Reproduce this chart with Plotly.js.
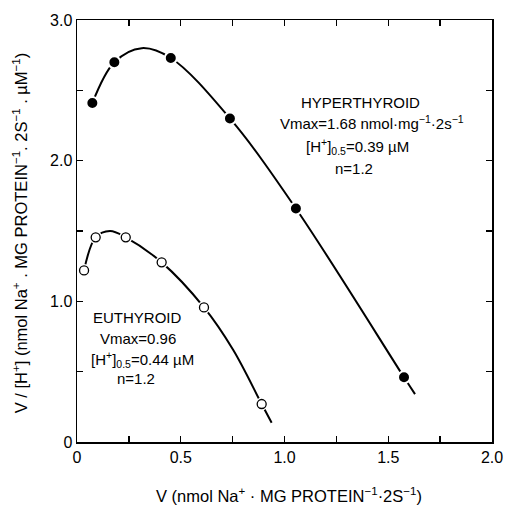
<!DOCTYPE html>
<html>
<head>
<meta charset="utf-8">
<script src="https://cdn.plot.ly/plotly-3.0.1.min.js"></script>
<style>html,body{margin:0;padding:0;background:#fff;}#chart{width:506px;height:517px;}</style>
</head>
<body>
<div id="chart"></div>
<script>
// Hyperthyroid measured points (filled circles)
const hyperX = [0.074, 0.180, 0.452, 0.737, 1.055, 1.576];
const hyperY = [2.41, 2.70, 2.73, 2.30, 1.66, 0.46];
// Hyperthyroid fitted curve
const hyperCurveX = [0.074, 0.180, 0.312, 0.452, 0.737, 1.055, 1.576, 1.629];
const hyperCurveY = [2.41, 2.70, 2.80, 2.73, 2.30, 1.66, 0.46, 0.34];
// Euthyroid measured points (open circles)
const euthX = [0.034, 0.090, 0.235, 0.408, 0.612, 0.890];
const euthY = [1.22, 1.455, 1.455, 1.277, 0.957, 0.27];
// Euthyroid fitted curve
const euthCurveX = [0.034, 0.090, 0.159, 0.235, 0.408, 0.612, 0.753, 0.890, 0.938];
const euthCurveY = [1.22, 1.455, 1.50, 1.455, 1.277, 0.957, 0.654, 0.27, 0.137];
// Axis ticks
const xTickVals = [0, 0.5, 1.0, 1.5, 2.0];
const xTickText = ['0', '0.5', '1.0', '1.5', '2.0'];
const xMinorVals = [0.25, 0.75, 1.25, 1.75];
const yTickVals = [0, 1.0, 2.0, 3.0];
const yTickText = ['0', '1.0', '2.0', '3.0'];
const yMinorVals = [0.5, 1.5, 2.5];

const FONT = 'Liberation Sans, Arial, Helvetica, sans-serif';

const traces = [
  {x: hyperCurveX, y: hyperCurveY, mode: 'lines', line: {color: '#000', width: 2, shape: 'spline', smoothing: 1}, hoverinfo: 'skip'},
  {x: euthCurveX, y: euthCurveY, mode: 'lines', line: {color: '#000', width: 2, shape: 'spline', smoothing: 1}, hoverinfo: 'skip'},
  {x: euthX, y: euthY, mode: 'markers', marker: {color: '#fff', size: 13, line: {width: 0}}, hoverinfo: 'skip'},
  {x: euthX, y: euthY, mode: 'markers', marker: {symbol: 'circle', color: '#fff', size: 9, line: {color: '#000', width: 1.3}}},
  {x: hyperX, y: hyperY, mode: 'markers', marker: {symbol: 'circle', color: '#000', size: 12, line: {color: '#fff', width: 2}}}
];

const ann = (x, y, text, size) => ({x: x, y: y, xref: 'x', yref: 'y', text: text, showarrow: false, font: {family: FONT, size: size, color: '#000'}, xanchor: 'center', yanchor: 'middle'});

const axisCommon = {
  ticks: 'inside', ticklen: 6, tickwidth: 1.3, tickcolor: '#000',
  showline: true, linecolor: '#000', linewidth: 1.5, mirror: 'ticks',
  showgrid: false, zeroline: false,
  tickfont: {family: FONT, size: 16, color: '#000'}
};

const layout = {
  width: 506, height: 517,
  margin: {l: 77, r: 14, t: 20, b: 75},
  paper_bgcolor: '#fff', plot_bgcolor: '#fff',
  showlegend: false,
  font: {family: FONT, color: '#000'},
  xaxis: Object.assign({range: [0, 2.0], tickmode: 'array', tickvals: xTickVals, ticktext: xTickText,
    minor: {tickmode: 'array', tickvals: xMinorVals, ticks: 'inside', ticklen: 6, tickwidth: 1.3, tickcolor: '#000', showgrid: false}}, axisCommon),
  yaxis: Object.assign({range: [0, 3.0], tickmode: 'array', tickvals: yTickVals, ticktext: yTickText,
    minor: {tickmode: 'array', tickvals: yMinorVals, ticks: 'inside', ticklen: 6, tickwidth: 1.3, tickcolor: '#000', showgrid: false}}, axisCommon),
  annotations: [
    ann(1.364, 2.417, 'HYPERTHYROID', 15),
    ann(1.420, 2.274, 'Vmax=1.68 nmol·mg<sup>−1</sup>·2s<sup>−1</sup>', 15),
    ann(1.352, 2.104, '[H<sup>+</sup>]<sub>0.5</sub>=0.39 µM', 15),
    ann(1.335, 1.947, 'n=1.2', 15),
    ann(0.292, 0.888, 'EUTHYROID', 15),
    ann(0.294, 0.739, 'Vmax=0.96', 15),
    ann(0.318, 0.590, '[H<sup>+</sup>]<sub>0.5</sub>=0.44 µM', 15),
    ann(0.284, 0.448, 'n=1.2', 15),
    {xref: 'paper', yref: 'paper', x: 0.511, y: -0.126, xanchor: 'center', yanchor: 'middle', showarrow: false,
     text: 'V (nmol Na<sup>+</sup> · MG PROTEIN<sup>−1</sup>·2S<sup>−1</sup>)', font: {family: FONT, size: 16.5, color: '#000'}},
    {xref: 'paper', yref: 'paper', x: -0.137, y: 0.495, xanchor: 'center', yanchor: 'middle', showarrow: false, textangle: -90,
     text: 'V / [H<sup>+</sup>] (nmol Na<sup>+</sup> . MG PROTEIN<sup>−1</sup>. 2S<sup>−1</sup> . µM<sup>−1</sup>)', font: {family: FONT, size: 16.5, color: '#000'}}
  ]
};

Plotly.newPlot('chart', traces, layout, {displayModeBar: false, staticPlot: true});
</script>
</body>
</html>
